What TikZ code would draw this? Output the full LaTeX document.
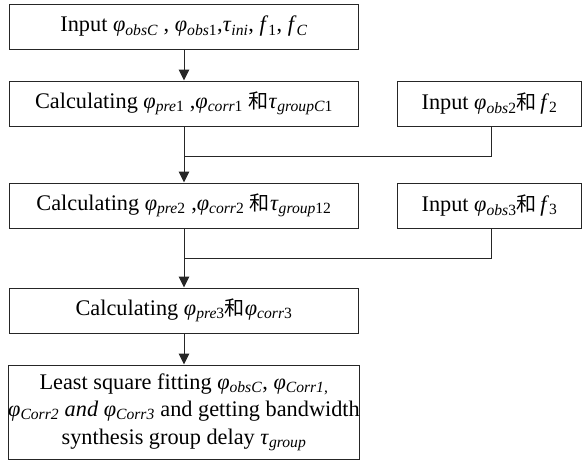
\documentclass[tikz,border=0pt]{standalone}
\usepackage{fontspec}
\setmainfont{Liberation Serif}
\newfontfamily\cjk[Scale=0.9]{Noto Sans CJK SC}
\usetikzlibrary{arrows.meta}

% symbols used in the labels
\newcommand{\vphi}{\textit{φ}}
\newcommand{\vtau}{\textit{τ}}
\newcommand{\sbs}[1]{\textsubscript{#1}}
\newcommand{\he}{{\cjk 和}}

\begin{document}
\begin{tikzpicture}[x=1pt,y=1pt,
  font=\fontsize{22.3}{27.5}\selectfont,
  box/.style={draw=black!85, line width=1pt, rectangle, inner sep=0pt,
              minimum width=349pt, minimum height=45pt, align=center},
  sidebox/.style={box, minimum width=184pt},
  flow/.style={draw=black!85, line width=1pt, -{Triangle[length=11pt,width=10.5pt]}},
  link/.style={draw=black!85, line width=1pt}
]
\useasboundingbox (0,0) rectangle (583,-461);

% main column
\node[box] (in1) at (184,-26.5)
  {Input \vphi\sbs{\textit{obsC}} , \vphi\sbs{\textit{obs}1},\vtau\sbs{\textit{ini}}, \textit{f}\sbs{1}, \textit{f}\sbs{\textit{C}}};
\node[box] (c1) at (184,-103.5)
  {Calculating \vphi\sbs{\textit{pre}1} ,\vphi\sbs{\textit{corr}1} \he\vtau\sbs{\textit{groupC}1}};
\node[box] (c2) at (184,-205.5)
  {Calculating \vphi\sbs{\textit{pre}2} ,\vphi\sbs{\textit{corr}2} \he\vtau\sbs{\textit{group}12}};
\node[box] (c3) at (184,-310.5)
  {Calculating \vphi\sbs{\textit{pre}3}\he\vphi\sbs{\textit{corr}3}};
\node[box, minimum height=94pt] (fit) at (184,-412)
  {Least square fitting \vphi\sbs{\textit{obsC}}, \vphi\sbs{\textit{Corr1},}\\
   \vphi\sbs{\textit{Corr2}} \textit{and} \vphi\sbs{\textit{Corr3}} and getting bandwidth\\
   synthesis group delay \vtau\sbs{\textit{group}}};

% side inputs
\node[sidebox] (in2) at (489.5,-103.5) {Input \vphi\sbs{\textit{obs}2}\he\,\textit{f}\sbs{2}};
\node[sidebox] (in3) at (489.5,-205.5) {Input \vphi\sbs{\textit{obs}3}\he\,\textit{f}\sbs{3}};

% junction points
\coordinate (j1) at (184,-156);
\coordinate (j2) at (184,-258);

% connectors
\draw[flow] (in1) -- (c1);
\draw[flow] (c1) -- (c2);
\draw[link] (in2.south -| 491,0) |- (j1);
\draw[flow] (c2) -- (c3);
\draw[link] (in3.south -| 491,0) |- (j2);
\draw[flow] (c3) -- (fit);
\end{tikzpicture}
\end{document}
